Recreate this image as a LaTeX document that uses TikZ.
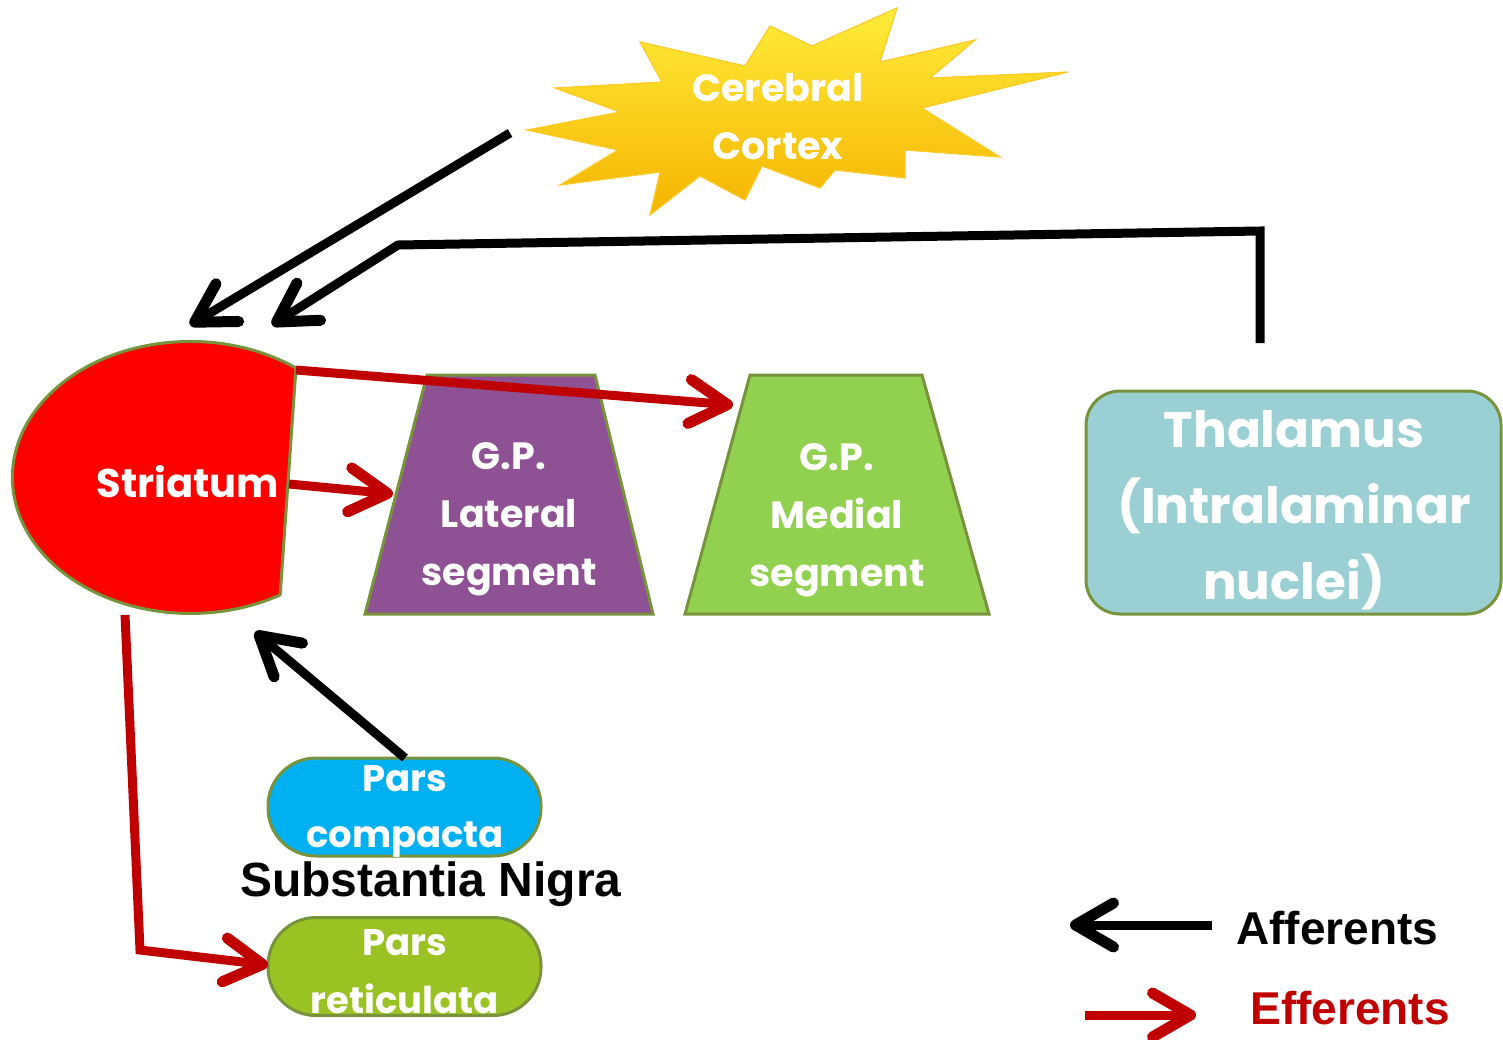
\documentclass[tikz,border=0pt]{standalone}
\usepackage{fontspec}
\setmainfont{Poppins}
\newfontfamily\arialfont{Liberation Sans}
\usetikzlibrary{arrows.meta,positioning}
\definecolor{rim}{HTML}{77933C}
\definecolor{strred}{HTML}{FF0000}
\definecolor{gplat}{HTML}{8E5193}
\definecolor{gpmed}{HTML}{92D050}
\definecolor{thal}{HTML}{9ACFD4}
\definecolor{pcblue}{HTML}{00B0F0}
\definecolor{prgreen}{HTML}{99C222}
\definecolor{effred}{HTML}{C00000}
\definecolor{starTop}{HTML}{FFEC3A}
\definecolor{starBot}{HTML}{F4B400}
\tikzset{
  lbl/.style={text=white, font=\bfseries\fontsize{19}{29}\selectfont, align=center, inner sep=0pt},
  legend/.style={font=\arialfont\bfseries\fontsize{23}{26}\selectfont, inner sep=0pt},
  gpbox/.style={draw=rim, line width=1.5pt},
  pillbox/.style={draw=rim, line width=1.5pt, rounded corners=24pt, minimum width=136.5pt, minimum height=49pt, inner sep=0pt},
  affarr/.style={-{Straight Barb[round,length=19pt,width=22pt,line width=5.5pt]}, line width=4.5pt, draw=black},
  effarr/.style={-{Straight Barb[round,length=19pt,width=22pt,line width=5.5pt]}, line width=4.5pt, draw=effred}
}
\begin{document}
\begin{tikzpicture}[x=0.5pt, y=-0.5pt]
  \useasboundingbox (0,0) rectangle (1503,1039);

  % cortex star
  \filldraw[top color=starTop, bottom color=starBot, draw=starTop!70!orange, line width=0.6pt]
    (897,8) -- (880,62) -- (975,40) -- (930,78) -- (1068,72) -- (922,108)
    -- (1000,157) -- (905,150) -- (905,178) -- (835,170) -- (820,188)
    -- (762,166) -- (745,200) -- (700,176) -- (650,215) -- (660,172)
    -- (560,185) -- (618,150) -- (527,130) -- (620,112) -- (555,88)
    -- (662,82) -- (640,42) -- (745,66) -- (770,26) -- (812,46) -- cycle;
  \node[lbl] (ctx) at (778,117) {Cerebral\\Cortex};

  % striatum
  \filldraw[fill=strred, draw=rim, line width=1.5pt]
    (296,368) arc[start angle=-53.6, end angle=-300.3, x radius=178, y radius=136] -- cycle;
  \node[lbl, font=\bfseries\fontsize{20}{24}\selectfont] (str) at (188,482) {Striatum};
  \coordinate (strNE) at (296,370);
  \coordinate (strE) at (289,484);
  \coordinate (strS) at (125,615);
  \coordinate (strTipA) at (190,325);
  \coordinate (strTipB) at (272,325);
  \coordinate (strTipC) at (255,632);

  % globus pallidus
  \filldraw[gpbox, fill=gplat] (427,375) -- (595,375) -- (653,614) -- (365,614) -- cycle;
  \node[lbl] (lat) at (509,519) {G.P.\\Lateral\\segment};
  \coordinate (latW) at (393,494);
  \filldraw[gpbox, fill=gpmed] (750,375) -- (922,375) -- (989,614) -- (685,614) -- cycle;
  \node[lbl] (med) at (837,520) {G.P.\\Medial\\segment};
  \coordinate (medW) at (733,405);

  % thalamus
  \node[draw=rim, line width=1.5pt, fill=thal, rounded corners=17pt,
        minimum width=207.5pt, minimum height=111.5pt] (thalbox) at (1293.5,502.5) {};
  \node[lbl, font=\bfseries\fontsize{25}{38}\selectfont] (thallbl) at (1294,510)
    {Thalamus\\(Intralaminar\\nuclei)};
  \coordinate (thalN) at (1260,343);

  % substantia nigra
  \node[pillbox, fill=pcblue] (pc) at (404.5,807) {};
  \node[lbl, font=\bfseries\fontsize{18.5}{28}\selectfont] (pclbl) at (405,811) {Pars\\compacta};
  \node[pillbox, fill=prgreen] (pr) at (404.5,966.5) {};
  \node[lbl, font=\bfseries\fontsize{18.5}{29}\selectfont] (prlbl) at (405,972) {Pars\\reticulata};
  \node[font=\arialfont\bfseries\fontsize{24}{28}\selectfont, inner sep=0pt] (sn) at (431,884) {Substantia Nigra};
  \coordinate (pcN) at (405,758);
  \coordinate (prW) at (268,965);

  % afferents
  \draw[affarr] (510,133) -- (strTipA);
  \draw[affarr, line join=miter] (thalN) -- (1260,231) -- (398,245) -- (strTipB);
  \draw[affarr] (pcN) -- (strTipC);

  % efferents
  \draw[effarr] (strNE) -- (medW);
  \draw[effarr] (strE) -- (latW);
  \draw[effarr, line join=miter] (strS) -- (140,950) -- (prW);

  % legend
  \node[legend, anchor=west] (aff) at (1236,928) {Afferents};
  \node[legend, anchor=west, text=effred] (eff) at (1250,1008) {Efferents};
  \coordinate (affS) at (1212,925);
  \coordinate (affE) at (1070,925);
  \coordinate (effS) at (1085,1015);
  \coordinate (effE) at (1196,1015);
  \draw[affarr] (affS) -- (affE);
  \draw[effarr] (effS) -- (effE);
\end{tikzpicture}
\end{document}
